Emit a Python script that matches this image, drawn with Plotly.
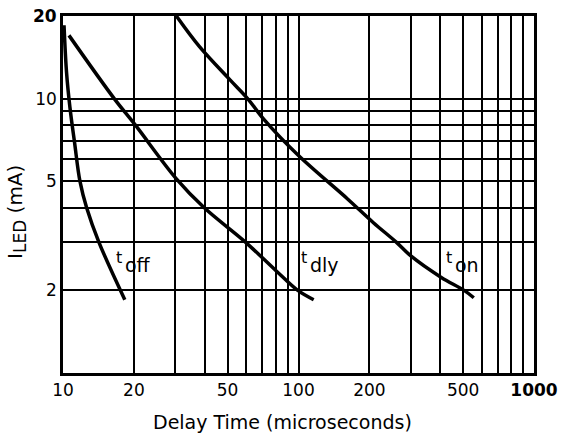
import math
import plotly.graph_objects as go

# ---- data ----
toff_x = [10.1, 10.35, 10.7, 11.2, 11.8, 12.6, 14.2, 18.3]
toff_y = [18.5, 12.5, 9.3, 6.9, 5.0, 4.0, 3.0, 1.85]

tdly_x = [10.6, 16.5, 20.3, 30.3, 39.8, 59.5, 80.7, 99.3, 116]
tdly_y = [17.0, 10.0, 8.0, 5.1, 4.0, 3.0, 2.35, 2.0, 1.85]

ton_x = [30.3, 37.9, 51.2, 60.8, 71.3, 100, 162, 208, 260, 300, 404, 505, 555]
ton_y = [20.0, 15.5, 11.7, 10.0, 8.4, 6.2, 4.3, 3.53, 3.0, 2.67, 2.23, 2.0, 1.88]

x_grid = [10, 20, 30, 40, 50, 60, 70, 80, 90, 100, 200, 300, 400, 500, 600, 700, 800, 900, 1000]
x_labels = {10: "10", 20: "20", 50: "50", 100: "100", 200: "200", 500: "500", 1000: "<b>1000</b>"}
y_grid = [1, 2, 3, 4, 5, 6, 7, 8, 9, 10, 20]
y_labels = {2: "2", 5: "5", 10: "10"}
y_top_label = (20, "<b>20</b>")

# curve label anchors: (main, subscript, x, y)
curve_labels = [("t", "off", 17.9, 2.53), ("t", "dly", 110, 2.53), ("t", "on", 455, 2.53)]

FONT = "DejaVu Sans"

fig = go.Figure()
for xs, ys in [(toff_x, toff_y), (tdly_x, tdly_y), (ton_x, ton_y)]:
    fig.add_trace(go.Scatter(x=xs, y=ys, mode="lines",
                             line=dict(color="black", width=3.5, shape="spline", smoothing=1.0),
                             showlegend=False, hoverinfo="skip"))

annotations = []
for main, sub, lx, ly in curve_labels:
    ax, ay = math.log10(lx), math.log10(ly)
    annotations.append(dict(x=ax, y=ay, xref="x", yref="y", text=main, showarrow=False,
                            xanchor="right", yanchor="middle", yshift=5, xshift=1,
                            font=dict(family=FONT, size=16, color="black")))
    annotations.append(dict(x=ax, y=ay, xref="x", yref="y", text=sub, showarrow=False,
                            xanchor="left", yanchor="middle", yshift=-3,
                            font=dict(family=FONT, size=19, color="black")))

# top y label placed beside the axis
annotations.append(dict(x=0, y=math.log10(y_top_label[0]), xref="paper", yref="y",
                        text=y_top_label[1], showarrow=False, xanchor="right",
                        yanchor="middle", xshift=-4,
                        font=dict(family=FONT, size=17, color="black")))

# axis titles
annotations.append(dict(x=0.465, y=0, xref="paper", yref="paper", yshift=-49,
                        text="Delay Time (microseconds)", showarrow=False,
                        xanchor="center", yanchor="middle",
                        font=dict(family=FONT, size=19, color="black")))
annotations.append(dict(x=0, y=0.451, xref="paper", yref="paper", xshift=-46,
                        text="I<sub><span style='font-size:17px'>LED</span></sub> (mA)",
                        showarrow=False, textangle=-90,
                        xanchor="center", yanchor="middle",
                        font=dict(family=FONT, size=20, color="black")))

fig.update_layout(
    width=570, height=435,
    margin=dict(l=63, r=25, t=16, b=62),
    paper_bgcolor="white", plot_bgcolor="white",
    annotations=annotations,
    font=dict(family=FONT, size=18, color="black"),
)
fig.update_xaxes(type="log", range=[1, 3],
                 tickvals=x_grid, ticktext=[x_labels.get(v, "") for v in x_grid],
                 showgrid=True, gridcolor="black", gridwidth=1.6,
                 showline=True, linecolor="black", linewidth=2.5, mirror=True,
                 ticks="", zeroline=False, ticklabeloverflow="allow",
                 tickfont=dict(family=FONT, size=17, color="black"))
fig.update_yaxes(type="log", range=[0, 1.30103],
                 tickvals=y_grid, ticktext=[y_labels.get(v, "") for v in y_grid],
                 showgrid=True, gridcolor="black", gridwidth=1.6,
                 showline=True, linecolor="black", linewidth=2.5, mirror=True,
                 ticks="", zeroline=False,
                 tickfont=dict(family=FONT, size=17, color="black"))

fig.write_html("out.html", config={"displayModeBar": False},
               post_script="document.body.style.margin='0';document.body.style.overflow='hidden';")
